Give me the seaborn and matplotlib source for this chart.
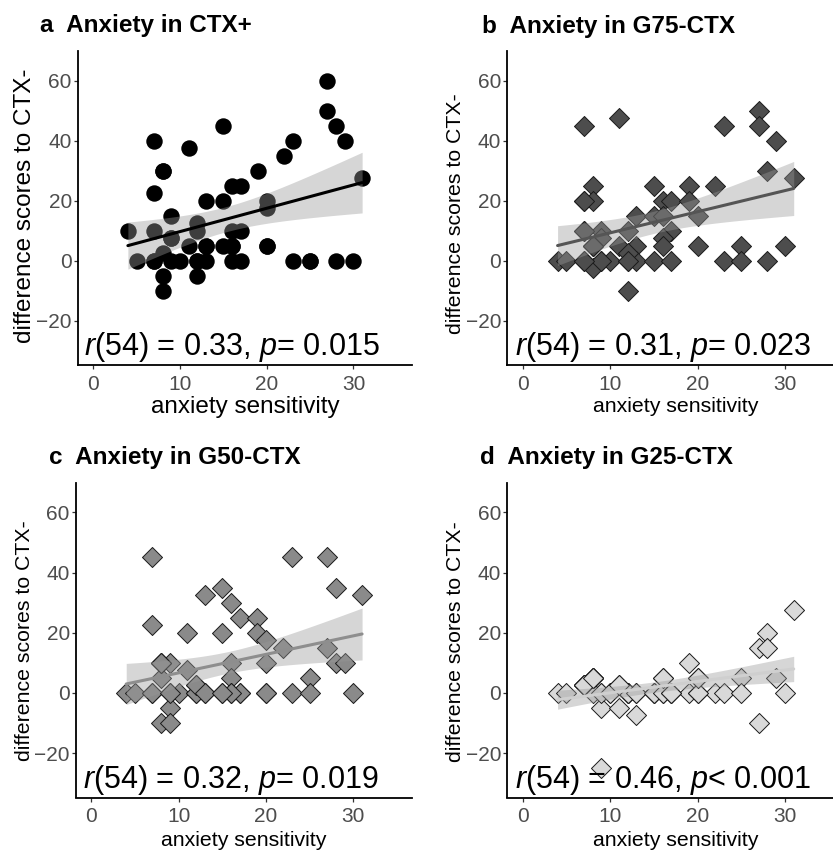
import numpy as np
import pandas as pd
import matplotlib
matplotlib.use("Agg")
import matplotlib.pyplot as plt
import seaborn as sns

# ---------------- data ----------------
# visible points
xa = [27, 27, 28, 29, 15, 7, 11, 8, 7, 23, 22, 19, 16, 17, 13, 15, 20, 20, 31, 4,
      7, 9, 9, 12, 12, 16, 17, 11, 13, 15, 16, 20, 8, 5, 7, 9, 10, 12, 13, 16,
      17, 23, 25, 28, 30, 12, 8, 8]
ya = [60, 50, 45, 40, 45, 40, 37.5, 30, 22.5, 40, 35, 30, 25, 25, 20, 20, 20, 17.5, 27.5, 10,
      10, 15, 7.5, 12.5, 10, 10, 10, 5, 5, 5, 5, 5, 2.5, 0, 0, 0, 0, 0, 0, 0,
      0, 0, 0, 0, 0, -5, -5, -10]
# points hidden exactly under visible ones (n = 56 per panel)
xa_hid = [9, 8, 25, 12, 16, 7, 13, 20]
ya_hid = [7.5, 30, 0, 0, 5, 0, 5, 5]

xb = [7, 11, 23, 27, 27, 29, 28, 31, 8, 7, 8, 15, 19, 22, 16, 17, 19, 13, 15, 16,
      20, 7, 9, 12, 17, 16, 9, 8, 11, 13, 16, 20, 25, 30, 4, 5, 7, 9, 10, 12,
      13, 15, 17, 23, 25, 28, 8, 12, 12]
yb = [45, 47.5, 45, 50, 45, 40, 30, 27.5, 25, 20, 20, 25, 25, 25, 20, 20, 20, 15, 15, 15,
      15, 10, 10, 10, 10, 7.5, 7.5, 5, 5, 5, 5, 5, 5, 5, 0, 0, 0, 0, 0, 0,
      0, 0, 0, 0, 0, 0, -2.5, 2.5, -10]
xb_hid = [8, 9, 8, 7, 7, 12, 7]
yb_hid = [5, 0, 5, 10, 20, 0, 0]

xc = [7, 23, 27, 28, 31, 15, 13, 16, 17, 19, 7, 11, 15, 19, 20, 22, 27, 8, 9, 11,
      16, 20, 28, 29, 8, 12, 16, 25, 4, 5, 7, 9, 10, 12, 13, 15, 16, 17, 20, 23,
      25, 30, 9, 8, 9]
yc = [45, 45, 45, 35, 32.5, 35, 32.5, 30, 25, 25, 22.5, 20, 20, 20, 17.5, 15, 15, 10, 10, 7.5,
      10, 10, 10, 10, 5, 2.5, 5, 5, 0, 0, 0, 0, 0, 0, 0, 0, 0, 0, 0, 0,
      0, 0, -5, -10, -10]
xc_hid = [7, 8, 8, 12, 12, 13, 17, 16, 9, 20, 15]
yc_hid = [0, 10, 10, 0, 2.5, 0, 0, 0, 0, 0, 0]

xd = [31, 28, 27, 28, 19, 20, 16, 8, 7, 11, 25, 29, 4, 5, 9, 10, 12, 13, 15, 16,
      17, 19, 20, 22, 23, 25, 30, 9, 11, 13, 27, 9, 8]
yd = [27.5, 20, 15, 15, 10, 5, 5, 5, 2.5, 2.5, 5, 5, 0, 0, 0, 0, 0, 0, 0, 0,
      0, 0, 0, 0, 0, 0, 0, -5, -5, -7.5, -10, -25, 0]
xd_hid = [7, 7, 7, 8, 8, 8, 9, 12, 12, 12, 13, 15, 15, 16, 16, 17, 17, 20, 20, 7, 10, 11, 8]
yd_hid = [2.5, 2.5, 2.5, 5, 5, 5, 0, 0, 0, 0, 0, 0, 0, 0, 5, 0, 0, 0, 5, 2.5, 0, 2.5, 5]

titles = ["a  Anxiety in CTX+", "b  Anxiety in G75-CTX",
          "c  Anxiety in G50-CTX", "d  Anxiety in G25-CTX"]
stats = [r"$\mathit{r}$(54) = 0.33, $\mathit{p}$= 0.015",
         r"$\mathit{r}$(54) = 0.31, $\mathit{p}$= 0.023",
         r"$\mathit{r}$(54) = 0.32, $\mathit{p}$= 0.019",
         r"$\mathit{r}$(54) = 0.46, $\mathit{p}$< 0.001"]
xlabel = "anxiety sensitivity"
ylabel = "difference scores to CTX-"
xticks = [0, 10, 20, 30]
yticks = [-20, 0, 20, 40, 60]

# ---------------- style ----------------
sns.set_style("ticks")
plt.rcParams['font.family'] = ['Liberation Sans', 'DejaVu Sans']
plt.rcParams['mathtext.fontset'] = 'custom'
plt.rcParams['mathtext.rm'] = 'Liberation Sans'
plt.rcParams['mathtext.it'] = 'Liberation Sans:italic'

W, H = 833, 851
fig = plt.figure(figsize=(W / 100, H / 100), dpi=100)


def rect(left, top, right, bottom):
    return [left / W, 1 - bottom / H, (right - left) / W, (bottom - top) / H]


def lm_band(x, y, grid, t=2.005):
    x = np.asarray(x, float)
    y = np.asarray(y, float)
    n = len(x)
    b, a = np.polyfit(x, y, 1)
    resid = y - (a + b * x)
    s = np.sqrt(np.sum(resid ** 2) / (n - 2))
    sxx = np.sum((x - x.mean()) ** 2)
    se = s * np.sqrt(1.0 / n + (grid - x.mean()) ** 2 / sxx)
    fit = a + b * grid
    return fit - t * se, fit + t * se


panels = [
    dict(x=xa + xa_hid, y=ya + ya_hid, marker='o', s=140, fill='black', line='black', ew=0,
         rect=(78, 51.5, 412, 365), tpos=(40, 32), ypos=(25, 206), xpos=(245.8, 413), lab=17.5),
    dict(x=xb + xb_hid, y=yb + yb_hid, marker='D', s=104, fill='#4D4D4D', line='#555555', ew=0.7,
         rect=(507.3, 51.5, 844, 365), tpos=(481.7, 33), ypos=(455.4, 213.5), xpos=(675.8, 412), lab=15.3),
    dict(x=xc + xc_hid, y=yc + yc_hid, marker='D', s=104, fill='#8A8A8A', line='#8E8E8E', ew=0.7,
         rect=(76, 483, 412.3, 797.5), tpos=(49.3, 464), ypos=(24.4, 641), xpos=(244, 846), lab=15.3),
    dict(x=xd + xd_hid, y=yd + yd_hid, marker='D', s=104, fill='#D9D9D9', line='#CFCFCF', ew=0.7,
         rect=(507.3, 483, 844, 797.5), tpos=(480, 464), ypos=(455.4, 642), xpos=(675.8, 846.5), lab=15.3),
]

for i, P in enumerate(panels):
    ax = fig.add_axes(rect(*P['rect']))
    df = pd.DataFrame({'as': P['x'], 'diff': P['y']})
    sns.scatterplot(data=df, x='as', y='diff', marker=P['marker'], s=P['s'],
                    color=P['fill'], edgecolor='#1A1A1A', linewidth=P['ew'],
                    ax=ax, legend=False, zorder=2)
    grid = np.linspace(df['as'].min(), df['as'].max(), 100)
    lo, hi = lm_band(df['as'], df['diff'], grid)
    ax.fill_between(grid, lo, hi, facecolor=(0.6, 0.6, 0.6), alpha=0.4,
                    linewidth=0, zorder=3)
    sns.regplot(data=df, x='as', y='diff', scatter=False, ax=ax, ci=None,
                color=P['line'], truncate=True, line_kws=dict(lw=2.2, zorder=4))

    ax.set_xlim(-1.75, 36.75)
    ax.set_ylim(-34.75, 69.75)
    ax.set_xticks(xticks)
    ax.set_yticks(yticks)
    ax.set_xlabel('')
    ax.set_ylabel('')
    sns.despine(ax=ax)
    for sp in ('left', 'bottom'):
        ax.spines[sp].set_linewidth(1.3)
        ax.spines[sp].set_color('black')
    ax.tick_params(axis='both', labelsize=15, labelcolor='#4D4D4D', color='#333333',
                   length=3, width=0.9)
    ax.tick_params(axis='x', pad=4.0)
    ax.tick_params(axis='y', pad=1.5)

    ax.text(16, -31.5, stats[i], ha='center', va='baseline', fontsize=22,
            color='black', zorder=6)

    tx, ty = P['tpos']
    fig.text(tx / W, 1 - ty / H, titles[i], ha='left', va='baseline',
             fontsize=17.5, fontweight='bold', color='black')
    yx, yy = P['ypos']
    fig.text(yx / W, 1 - yy / H, ylabel, rotation=90, ha='center', va='center',
             fontsize=P['lab'], color='black')
    xx, xy = P['xpos']
    fig.text(xx / W, 1 - xy / H, xlabel, ha='center', va='baseline',
             fontsize=P['lab'], color='black')

fig.savefig("out.png", dpi=100)
